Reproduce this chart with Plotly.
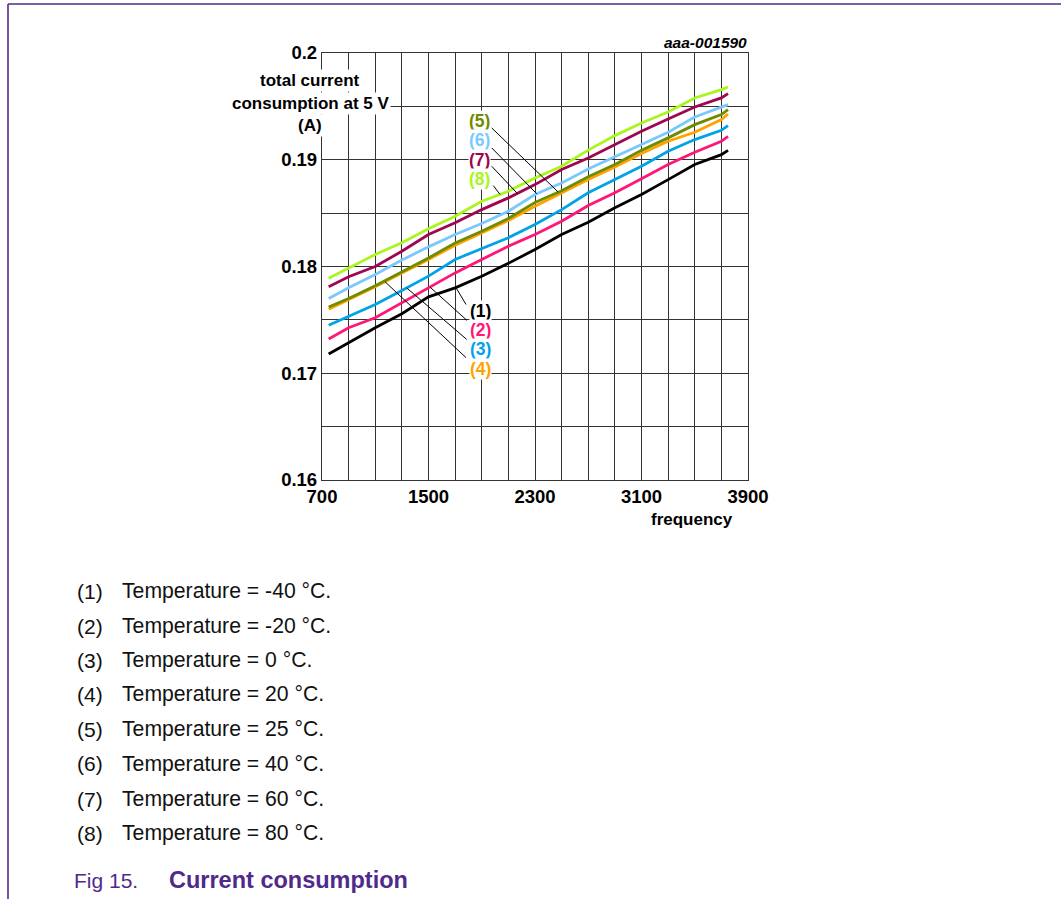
import numpy as np
import plotly.graph_objects as go

# Supply current vs. clock frequency, one curve per temperature
freq = [750, 900, 1100, 1300, 1500, 1700, 1900, 2100, 2300, 2500, 2700, 2900, 3100, 3300, 3500, 3700, 3750]

i_m40 = [0.1718, 0.17286, 0.17426, 0.17557, 0.17716, 0.1780, 0.17909, 0.1803, 0.18159, 0.1830, 0.18415,
         0.1855, 0.18674, 0.18814, 0.18955, 0.19048, 0.19088]
i_m20 = [0.1732, 0.17426, 0.1752, 0.1766, 0.1780, 0.1794, 0.18066, 0.1819, 0.1830, 0.18424, 0.18571,
         0.1869, 0.18823, 0.18955, 0.1907, 0.19173, 0.1922]
i_0 = [0.1745, 0.17535, 0.17644, 0.17775, 0.1791, 0.18066, 0.18166, 0.1827, 0.18393, 0.18533, 0.1869,
       0.18814, 0.18939, 0.1908, 0.19189, 0.19276, 0.1932]
i_20 = [0.1760, 0.1769, 0.1781, 0.1794, 0.18066, 0.1820, 0.18316, 0.1843, 0.18564, 0.1869, 0.18814,
        0.18933, 0.19058, 0.19173, 0.19257, 0.19376, 0.19429]
i_25 = [0.1762, 0.1770, 0.1782, 0.1795, 0.1808, 0.1822, 0.1833, 0.1845, 0.1860, 0.1871, 0.1884,
        0.18955, 0.19088, 0.19205, 0.19329, 0.19423, 0.1947]
i_40 = [0.1770, 0.1780, 0.17925, 0.1806, 0.18184, 0.1830, 0.18402, 0.18518, 0.18674, 0.18783, 0.18914,
        0.19027, 0.19142, 0.19257, 0.1940, 0.19494, 0.19516]
i_60 = [0.1781, 0.17904, 0.1800, 0.18143, 0.1830, 0.18409, 0.18533, 0.18643, 0.18767, 0.18908, 0.19017,
        0.19142, 0.19266, 0.19382, 0.19494, 0.19579, 0.19619]
i_80 = [0.1789, 0.17988, 0.18112, 0.18222, 0.18353, 0.18471, 0.18611, 0.18705, 0.1883, 0.18939, 0.1909,
        0.19226, 0.19345, 0.19448, 0.19579, 0.19657, 0.19682]

temps = ["-40", "-20", "0", "20", "25", "40", "60", "80"]
series = [i_m40, i_m20, i_0, i_20, i_25, i_40, i_60, i_80]
colors = ["#000000", "#ff1677", "#00a2e8", "#ffa200", "#6f8c00", "#79c9ff", "#a0054f", "#aaf51c"]

x_ticks = [700, 1500, 2300, 3100, 3900]
y_ticks = [0.16, 0.17, 0.18, 0.19, 0.2]

# callout label position (freq, value) and the frequency where its leader meets the curve
label_pos = [(1887, 0.17582), (1887, 0.17404), (1887, 0.17230), (1887, 0.17043),
             (1883, 0.19360), (1883, 0.19182), (1883, 0.19001), (1883, 0.18824)]
leader_from = [(1782, 0.17644), (1789, 0.17495), (1787, 0.17317), (1782, 0.17146),
               (1975, 0.19298), (1975, 0.19111), (1975, 0.18939), (1987, 0.18758)]
leader_to_f = [1706, 1511, 1336, 1173, 2475, 2313, 2167, 2037]

W, H = 1061, 899
L, R, T, B = 322, 748, 53, 480
GRID = "#333333"
PURPLE = "#4f2a8c"
FONT = "Liberation Sans, Arial, sans-serif"


def px(X):
    return (X - L) / (R - L)


def py(Y):
    return (B - Y) / (B - T)


fig = go.Figure()

for vals, col, t in zip(series, colors, temps):
    fig.add_trace(go.Scatter(x=freq, y=vals, mode="lines", name=f"{t} °C",
                             line=dict(color=col, width=2.8), showlegend=False))

shapes = []
annotations = []

for k, ((fx, fv), tf) in enumerate(zip(leader_from, leader_to_f)):
    tv = float(np.interp(tf, freq, series[k]))
    shapes.append(dict(type="line", xref="x", yref="y", x0=fx, y0=fv, x1=tf, y1=tv,
                       line=dict(color="#000000", width=1)))

for k, (lx, lv) in enumerate(label_pos):
    annotations.append(dict(x=lx, y=lv, xref="x", yref="y", text=f"<b>({k + 1})</b>", showarrow=False,
                            font=dict(family=FONT, size=17.5, color=colors[k]),
                            bgcolor="white", borderpad=0, xanchor="center", yanchor="middle"))

# y-axis title, one box per line so the grid shows between lines
for txt, yc in [("total current", 81), ("consumption at 5 V", 103), ("(A)", 126)]:
    annotations.append(dict(x=px(310), y=py(yc), xref="paper", yref="paper", text=f"<b>{txt}</b>",
                            showarrow=False, font=dict(family=FONT, size=17, color="#000000"),
                            bgcolor="white", borderpad=1, xanchor="center", yanchor="middle"))

annotations.append(dict(x=px(692), y=py(519), xref="paper", yref="paper", text="<b>frequency</b>",
                        showarrow=False, font=dict(family=FONT, size=17, color="#000000"),
                        xanchor="center", yanchor="middle"))
annotations.append(dict(x=px(749), y=py(43), xref="paper", yref="paper", text="<b><i>aaa-001590</i></b>",
                        showarrow=False, font=dict(family=FONT, size=15.5, color="#000000"),
                        xanchor="right", yanchor="middle"))

# notes below the chart
row_y = [591, 626, 660, 694, 729, 764, 799, 833]
for k, (t, yc) in enumerate(zip(temps, row_y)):
    annotations.append(dict(x=px(75), y=py(yc), xref="paper", yref="paper", text=f"({k + 1})",
                            showarrow=False, font=dict(family=FONT, size=21, color="#111111"),
                            xanchor="left", yanchor="middle"))
    annotations.append(dict(x=px(120), y=py(yc), xref="paper", yref="paper",
                            text=f"Temperature = {t} °C.", showarrow=False,
                            font=dict(family=FONT, size=21.2, color="#111111"),
                            xanchor="left", yanchor="middle"))

annotations.append(dict(x=px(72), y=py(880), xref="paper", yref="paper", text="Fig 15.",
                        showarrow=False, font=dict(family=FONT, size=21, color=PURPLE),
                        xanchor="left", yanchor="middle"))
annotations.append(dict(x=px(167), y=py(880), xref="paper", yref="paper", text="<b>Current consumption</b>",
                        showarrow=False, font=dict(family=FONT, size=23.5, color=PURPLE),
                        xanchor="left", yanchor="middle"))

# page frame
shapes.append(dict(type="line", xref="paper", yref="paper", x0=px(8), y0=py(4), x1=px(W + 5), y1=py(4),
                   line=dict(color=PURPLE, width=1.6)))
shapes.append(dict(type="line", xref="paper", yref="paper", x0=px(8), y0=py(4), x1=px(8), y1=py(H + 5),
                   line=dict(color=PURPLE, width=1.6)))

fig.update_layout(
    width=W, height=H, autosize=False,
    margin=dict(l=L, r=W - R, t=T, b=H - B, pad=0),
    paper_bgcolor="white", plot_bgcolor="white",
    shapes=shapes, annotations=annotations,
    font=dict(family=FONT, color="#000000"),
)

fig.update_xaxes(range=[700, 3900], tickvals=x_ticks, ticktext=[f"<b>{v}</b>" for v in x_ticks],
                 showgrid=True, gridcolor=GRID, gridwidth=1.3,
                 minor=dict(dtick=200, tick0=700, showgrid=True, gridcolor=GRID, gridwidth=1.3),
                 showline=True, mirror=True, linecolor=GRID, linewidth=1.3,
                 ticks="", zeroline=False, tickfont=dict(family=FONT, size=18.5, color="#000000"))
fig.update_yaxes(range=[0.16, 0.2], tickvals=y_ticks, ticktext=[f"<b>{v:g}</b>" for v in y_ticks],
                 showgrid=True, gridcolor=GRID, gridwidth=1.3,
                 minor=dict(dtick=0.005, tick0=0.16, showgrid=True, gridcolor=GRID, gridwidth=1.3),
                 showline=True, mirror=True, linecolor=GRID, linewidth=1.3,
                 ticks="", zeroline=False, tickfont=dict(family=FONT, size=18.5, color="#000000"))

fig.write_html("out.html")
